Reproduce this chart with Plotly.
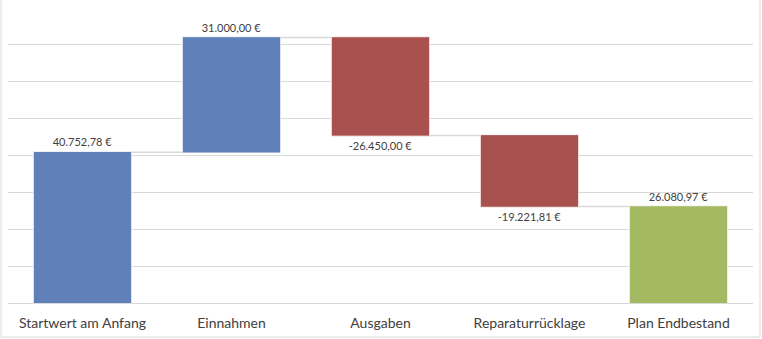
import plotly.graph_objects as go

# Budget waterfall: opening balance, income, expenses, repair reserve, planned closing balance
categories = ["Startwert am Anfang", "Einnahmen", "Ausgaben", "Reparaturrücklage", "Plan Endbestand"]
values = [40752.78, 31000.00, -26450.00, -19221.81, 26080.97]
measures = ["relative", "relative", "relative", "relative", "total"]

y_max = 80000
y_step = 10000

BLUE = "#6080b9"
RED = "#a9514f"
GREEN = "#a3ba63"
GRID = "#d9d9d9"
TEXT = "#404040"


def euro(v):
    s = f"{abs(v):,.2f}".replace(",", "X").replace(".", ",").replace("X", ".")
    return ("-" if v < 0 else "") + s + " €"


labels = [euro(v) for v in values]

W, H = 762, 339
ml, mr, mt, mb = 8, 9, 7, 36

fig = go.Figure(
    go.Waterfall(
        x=categories,
        y=values,
        measure=measures,
        text=labels,
        textposition="outside",
        textfont=dict(family="Lato, 'Liberation Sans', sans-serif", size=11, color=TEXT),
        cliponaxis=False,
        increasing=dict(marker=dict(color=BLUE, line=dict(color="#ffffff", width=0.8))),
        decreasing=dict(marker=dict(color=RED, line=dict(color="#ffffff", width=0.8))),
        totals=dict(marker=dict(color=GREEN, line=dict(color="#ffffff", width=0.8))),
        connector=dict(line=dict(color=GRID, width=1.5)),
        hoverinfo="skip",
    )
)

# light frame around the whole chart area
pw = W - ml - mr
ph = H - mt - mb
fig.add_shape(
    type="rect", xref="paper", yref="paper",
    x0=(1 - ml) / pw, x1=(W - 2 - ml) / pw,
    y0=-(H - 2 - mt - ph) / ph, y1=1 + (mt + 2) / ph,
    line=dict(color=GRID, width=1), fillcolor="rgba(0,0,0,0)", layer="below",
)

fig.update_layout(
    width=W, height=H,
    margin=dict(l=ml, r=mr, t=mt, b=mb),
    paper_bgcolor="white", plot_bgcolor="white",
    showlegend=False,
    waterfallgap=0.34,
    font=dict(family="Lato, 'Liberation Sans', sans-serif", color=TEXT),
    xaxis=dict(
        showgrid=False, showline=False, zeroline=False,
        ticks="", ticklabelstandoff=10, tickfont=dict(size=14, color=TEXT),
    ),
    yaxis=dict(
        range=[0, y_max], dtick=y_step, tick0=0,
        showgrid=True, gridcolor=GRID, gridwidth=1,
        zeroline=True, zerolinecolor=GRID, zerolinewidth=1,
        showticklabels=False, ticks="", showline=False,
    ),
)

fig.write_html("out.html")
